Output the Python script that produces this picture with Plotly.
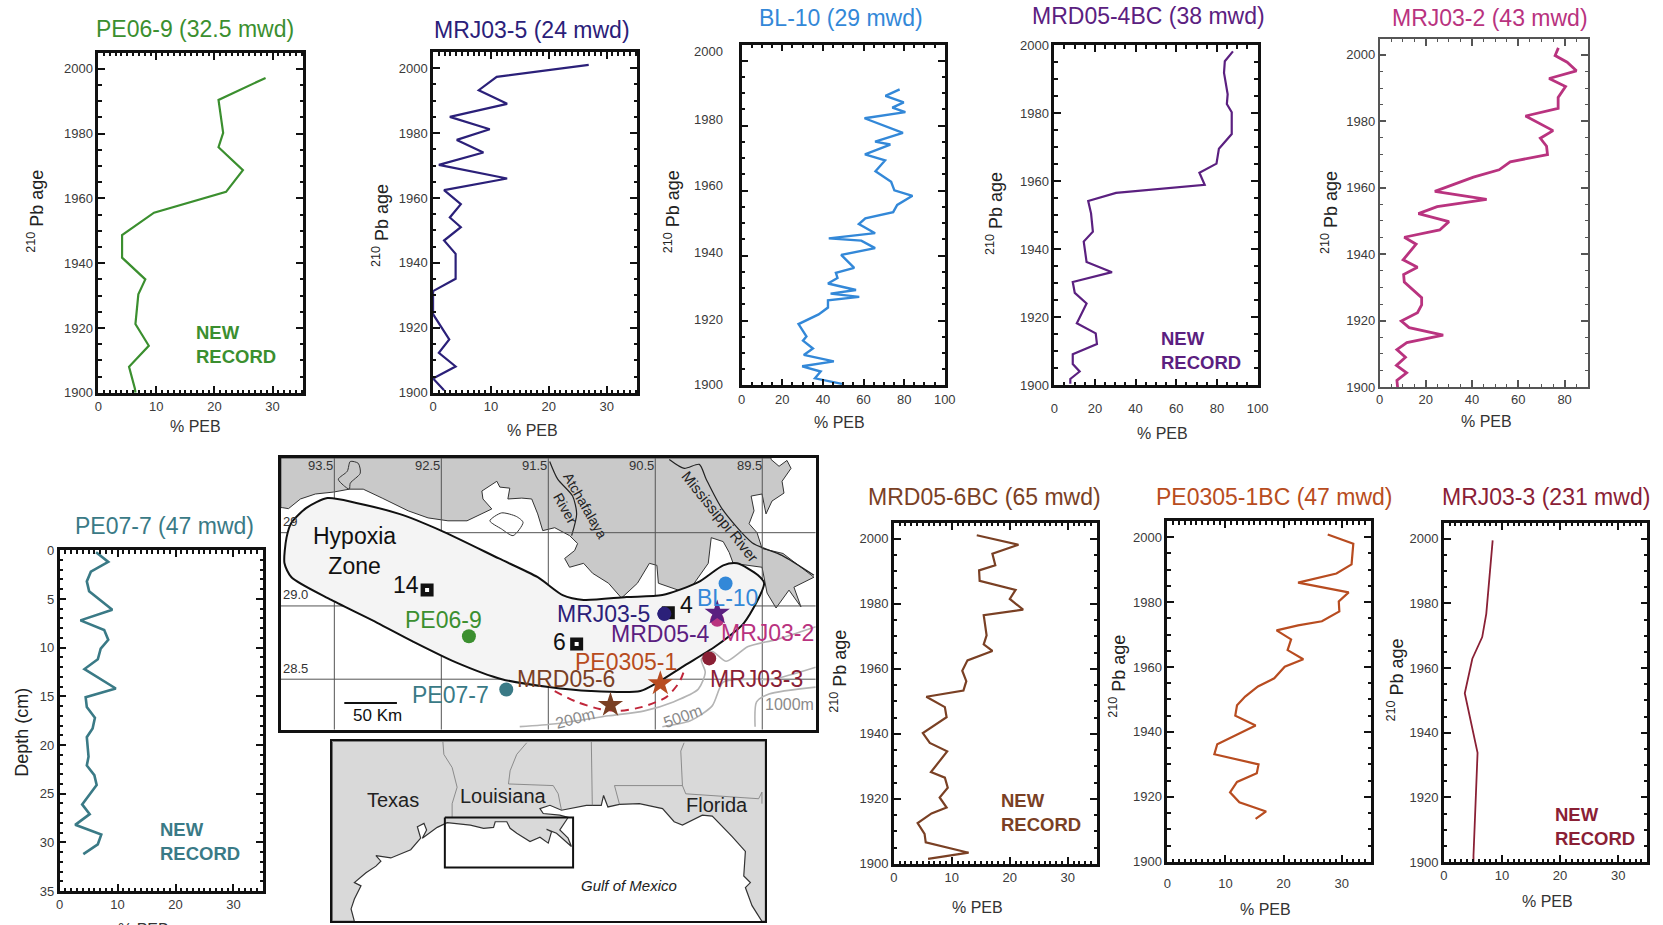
import plotly.graph_objects as go

W, H = 1663, 925
FONT = "Liberation Sans"

# ---------- sediment core records (% PEB, 210Pb age) ----------
pe069_peb = [28.8,20.7,21.5,20.7,24.9,22.0,9.6,4.1,4.1,8.1,6.9,6.4,8.7,5.3,6.3,6.4]
pe069_age = [1997.2,1990.4,1980.2,1975.8,1968.7,1962,1955.6,1948.7,1941.7,1935,1930.4,1921.2,1914.5,1908,1901.3,1900]

mrj035_peb = [26.9,11,7.9,12.8,2.9,9.8,4.1,8.7,1,12.8,1.9,4.8,2.9,4.8,1.9,3.9,3.9,0,0,2.8,1,3.9,0,1.9]
mrj035_age = [2001,1997.3,1993.2,1989,1985,1981.2,1977.9,1974,1970.2,1966,1962.4,1958.1,1954,1951,1946.9,1942.8,1935.1,1931.3,1924.2,1916.4,1912.3,1908.1,1904.4,1900.8]

bl10_peb = [77.8,70.8,79.8,74.2,80.6,60.5,79.4,65.7,73.2,60.7,70.6,65.9,73.6,75.2,84.1,76.6,74.6,60.9,57.7,65.7,42.9,58.9,65.7,49,55.4,46.4,47.2,42.5,56.3,43.8,57.9,42.5,42.5,37.9,28,31.9,30.2,35.1,30.6,45.4,29.8,38.9,36.1,49.4]
bl10_age = [1991.2,1989.2,1987.2,1985.6,1984.2,1982.3,1977.8,1975.1,1974.2,1971.2,1969.3,1966,1962.7,1960.1,1958.4,1955.6,1953.4,1951.5,1949.7,1946.9,1945.3,1944.6,1942.3,1940.2,1936.2,1934.7,1933.1,1931.4,1929.4,1928.3,1927.3,1926.2,1924,1921.9,1918.9,1915.1,1913.8,1911.4,1909.4,1907.4,1905.9,1904.3,1902.2,1900.5]

mrd054_peb = [87.9,83.9,83.5,85.3,84.9,87.3,87.3,81,79.8,71.4,74,30.4,16.7,18.1,19,14.5,15.9,28.4,9.1,10.1,15.9,11.1,20.4,21,9.1,9.1,12.5,7.9,7.9]
mrd054_age = [1998.2,1995.3,1991.9,1985.6,1982.7,1980.3,1973.9,1969.6,1965.2,1962.5,1959,1956.6,1954.2,1950.6,1945.2,1942.3,1936.3,1933.3,1930.4,1927.2,1924.1,1918.3,1915.3,1912.2,1909.2,1906.3,1904.1,1901.9,1900.5]

mrj032_peb = [77.3,75.9,81.1,85.1,73.3,80.4,77.2,77.2,63.1,75,69.5,72.2,72.6,56.5,51.7,40.6,23.9,46.3,24.9,16.8,30,26,10.7,15.8,10.2,16.4,10.4,10.7,18.2,18.2,16.4,9.4,12.8,27.5,11.8,7.5,11.2,7.3,11.7,7.5,7.8]
mrj032_age = [2002.1,1999.8,1997.8,1995.2,1992.9,1990.5,1987.2,1983.9,1981.6,1977.2,1974.9,1972.5,1970,1967.8,1965.4,1963.2,1958.9,1956.5,1954.3,1952.2,1949.8,1947.3,1945.1,1943,1938.3,1936.1,1933.9,1931.6,1926.9,1924.7,1922.4,1919.9,1917.9,1915.6,1913.4,1911.3,1909,1906.5,1904.3,1902,1900]

pe077_peb = [6.3,8.4,5.4,4.7,5.1,9.1,3.6,7.7,8.4,7.1,6.6,4.3,9.7,4.5,4.7,6.1,5.7,4.7,5,4.7,6,6.4,3.9,5.2,2.7,7.2,6.6,4.1]
pe077_depth = [0.2,1.2,2.2,3.2,4.2,6.1,7.2,8.2,9.2,10.1,11.2,12.2,14.2,15.1,16.1,17.2,18.3,19.2,21.2,22.1,23.1,24.1,26.1,27.1,28.2,29.2,30.2,31.2]

mrd056_peb = [14.3,21.5,17,17.5,14.7,14.8,21,20,22.3,15.5,16,15.5,17,12.7,11.8,12.5,12,5.6,8.8,9.1,5,6.2,9.2,6.4,8.8,9.3,7.9,9.1,6.5,4.1,5.3,5.5,12.9,5.9]
mrd056_age = [2001.1,1998.2,1995.4,1991.9,1990.3,1987.1,1984.3,1981.5,1978.2,1976.5,1970.3,1967.5,1965.5,1962.6,1959.4,1956.2,1953.3,1951.4,1948.2,1945.1,1940.2,1937.2,1934.6,1928.2,1926.5,1923.4,1920.4,1917.3,1915.5,1912.5,1909.2,1906.6,1903.4,1901.5]

pe0305_peb = [27.6,32,31.7,29.1,22.5,31.2,29.5,29.6,26.6,22.5,18.8,21.3,20.7,23.4,20.2,18.4,15.6,13.4,12,11.7,15.2,11.5,8.6,8.1,15.7,15.4,12,10.8,12.4,17,15.2]
pe0305_age = [2000.8,1998,1991.6,1988.8,1986,1983,1980.2,1977.1,1974.1,1972.8,1971.3,1968.5,1965.2,1962.4,1960.1,1956.5,1954,1950.9,1948.2,1945,1942,1938.7,1936.2,1933.1,1930,1927.3,1924.6,1921.4,1918.3,1915.5,1913.2]

mrj033_peb = [8.4,7.3,6.6,4.9,3.6,5.8,5.1,5.1]
mrj033_age = [1999.5,1976.8,1969.6,1962.9,1952.2,1933.8,1902,1900]

# ---------- study-area map (longitude W, latitude N) ----------
land_lon = [94.0,93.987,93.929,93.817,93.677,93.509,93.360,93.230,93.053,92.810,92.624,92.438,92.260,92.111,92.028,92.111,92.121,91.981,91.953,91.860,91.878,91.748,91.655,91.599,91.552,91.440,91.301,91.226,91.254,91.347,91.301,91.170,91.086,90.937,90.816,90.667,90.555,90.485,90.471,90.285,90.182,90.005,89.977,89.865,89.809,89.772,89.502,89.455,89.371,89.250,89.138,89.204,89.017,89.138,89.306,89.502,89.549,89.623,89.577,89.604,89.502,89.465,89.409,89.297,89.315,89.231,89.269,89.343,89.418,89.418,94.0,94.0]
land_lat = [29.671,29.671,29.664,29.730,29.764,29.777,29.797,29.797,29.736,29.649,29.601,29.581,29.581,29.635,29.662,29.730,29.784,29.851,29.811,29.804,29.730,29.736,29.730,29.628,29.514,29.534,29.480,29.426,29.378,29.324,29.264,29.291,29.223,29.155,29.054,29.155,29.291,29.277,29.155,29.108,29.108,29.291,29.466,29.439,29.365,29.291,29.264,29.088,28.986,29.108,28.993,29.128,29.196,29.264,29.358,29.392,29.500,29.561,29.649,29.750,29.764,29.628,29.716,29.770,29.851,29.939,29.993,29.953,30.0,30.01,30.01,29.671]

bay_island_lon = [92.046,91.937,91.797,91.736,91.829,91.937,92.046]
bay_island_lat = [29.581,29.635,29.610,29.570,29.480,29.525,29.581]
lake_lon = [93.463,93.379,93.351,93.276,93.258,93.351,93.360,93.416,93.463]
lake_lat = [29.865,29.919,29.986,29.973,29.905,29.838,29.797,29.824,29.865]
atchafalaya_lon = [91.487,91.412,91.273,91.235,91.282]
atchafalaya_lat = [29.986,29.865,29.750,29.628,29.480]
mississippi_lon = [90.369,90.229,90.089,90.024,89.875,89.595,89.316,89.017]
mississippi_lat = [30.0,29.939,29.966,29.865,29.662,29.432,29.345,29.209]

zone_lon = [93.565,93.761,93.901,93.947,93.966,93.901,93.528,93.099,92.764,92.363,91.934,91.496,91.105,90.639,90.471,90.238,89.940,89.670,89.483,89.539,89.735,89.865,90.098,90.434,90.769,91.170,91.366,91.599,91.962,92.503,92.894,93.295,93.565]
zone_lat = [29.736,29.669,29.568,29.466,29.291,29.196,29.041,28.885,28.757,28.615,28.500,28.446,28.419,28.419,28.480,28.588,28.723,28.885,29.155,29.209,29.291,29.277,29.162,29.074,29.061,29.041,29.074,29.196,29.324,29.514,29.628,29.703,29.736]

arc_lon = [91.440,91.235,91.021,90.835,90.620,90.397,90.275,90.220]
arc_lat = [28.419,28.345,28.297,28.284,28.311,28.378,28.480,28.581]

depth200_lon = [91.767,91.431,90.937,90.602,90.331,90.098,90.033,90.070,89.968,89.837,89.632,89.371,89.0]
depth200_lat = [28.176,28.196,28.250,28.284,28.345,28.432,28.547,28.635,28.689,28.622,28.723,28.770,28.858]
depth500_lon = [90.434,90.173,89.968,89.865,89.632,89.403,89.0]
depth500_lat = [28.176,28.216,28.318,28.480,28.5,28.5,28.581]
depth1000_lon = [89.567,89.553,89.437,89.0]
depth1000_lat = [28.176,28.345,28.399,28.446]

grid_lons = [93.5,92.5,91.5,90.5,89.5]
grid_lats = [29.5,29.0,28.5]
scale_lon = [93.407,92.915]
scale_lat = [28.338,28.338]

site_names = ["BL-10","MRJ03-2","MRJ03-5","PE06-9","MRJ03-3","PE07-7","MRD05-4","PE0305-1","MRD05-6"]
site_lon = [89.843,89.921,90.415,92.242,89.996,91.893,89.921,90.453,90.919]
site_lat = [29.153,28.905,28.946,28.793,28.642,28.430,28.953,28.471,28.324]
site_is_star = [False,False,False,False,False,False,True,True,True]

station_lon = [92.633,90.378,91.235]
station_lat = [29.108,28.953,28.741]

# ---------- Gulf of Mexico locator ----------
gulf_lon = [97.527,97.656,97.527,97.269,97.527,97.075,96.687,96.494,96.687,96.106,95.331,94.943,95.072,94.814,94.711,94.879,94.297,93.910,93.005,92.488,92.101,92.036,91.584,91.455,91.196,90.680,90.292,89.969,89.840,90.034,89.646,89.065,89.194,89.517,89.194,89.517,90.163,90.292,89.904,89.452,88.483,87.902,87.811,87.643,87.191,86.416,85.512,85.059,84.736,83.961,83.574,82.798,82.282,82.346,82.088,82.282,82.023,81.636,81.5,81.5,98.39,98.39,97.527]
gulf_lat = [26.152,26.616,26.982,27.470,27.592,27.959,28.203,28.386,28.594,28.508,28.813,29.241,29.668,29.790,29.546,29.241,29.644,29.815,29.729,29.607,29.644,29.851,29.851,29.607,29.424,29.119,29.277,29.058,29.485,29.570,29.424,28.935,29.241,29.546,30.01,30.095,30.157,30.340,30.462,30.279,30.462,30.462,30.828,30.401,30.498,30.523,30.340,29.851,29.729,30.095,30.059,29.302,28.752,27.837,27.592,27.409,26.738,26.152,26.15,32.84,32.84,26.15,26.152]
border_lons = [
    [94.078,94.039,93.716,93.522,93.716,93.716],
    [90.809,91.196,91.455,91.519,89.775,89.581,89.452],
    [88.289,88.251],
    [87.191,87.385,84.736],
    [84.672,84.801,84.736,84.607,81.765,81.636,81.636],
]
border_lats = [
    [32.84,32.354,31.866,31.133,30.523,30.01],
    [32.782,32.354,31.744,31.255,31.194,30.889,30.279],
    [32.84,30.462],
    [30.498,31.194,31.194],
    [32.782,32.476,31.194,30.889,30.706,30.950,30.523],
]
box_lon = [94,89,89,94,94]
box_lat = [30.01,30.01,28.155,28.155,30.01]

# ---------- text ----------
GREEN, NAVY, BLUE, PURPLE, PINK, TEAL, BROWN, ORANGE, DARKRED = (
    "#3b8f2f", "#2b2079", "#3388d8", "#5b2080", "#b9337f",
    "#3a7a86", "#7a4024", "#b84c20", "#8a2035")
SITE_COLORS = [BLUE, PINK, NAVY, GREEN, DARKRED, TEAL, PURPLE, ORANGE, BROWN]

panels = [
 dict(name="PE06-9 (32.5 mwd)", x=pe069_peb, y=pe069_age, c=GREEN, box=(97,304,51.7,394), xr=[0,35.2], yr=[1900,2004.9], xd=10, xm=1, tpos=(194.7,29), xt=(195.7,427), yt=(36,211.7), nr=(194.4,344), lw=2.2),
 dict(name="MRJ03-5 (24 mwd)", x=mrj035_peb, y=mrj035_age, c=NAVY, box=(431.8,638,51,394), xr=[0,35.2], yr=[1900,2004.9], xd=10, xm=1, tpos=(532.4,30), xt=(532.8,430.7), yt=(381,226), lw=2.2),
 dict(name="BL-10 (29 mwd)", x=bl10_peb, y=bl10_age, c=BLUE, box=(740.4,946,43.3,386.7), xr=[0,100], yr=[1900,2005], xd=20, xm=5, tpos=(841.4,18), xt=(839,422), yt=(672.6,211.7), lw=2.4, own_labels=True),
 dict(name="MRD05-4BC (38 mwd)", x=mrd054_peb, y=mrd054_age, c=PURPLE, box=(1053,1258.8,44,386.7), xr=[0,100], yr=[1900,2000], xd=20, xm=5, tpos=(1148.8,16), xt=(1162.9,433), yt=(995,213), nr=(1159,350), lw=2.2, so=9),
 dict(name="MRJ03-2 (43 mwd)", x=mrj032_peb, y=mrj032_age, c=PINK, box=(1378.3,1589,37.7,388.3), xr=[0,90], yr=[1900,2004.8], xd=20, xm=5, tpos=(1489.7,18), xt=(1486,421.7), yt=(1330,213), lw=2.8, thin=True),
 dict(name="PE07-7 (47 mwd)", x=pe077_peb, y=pe077_depth, c=TEAL, box=(58.3,264.3,549,892.3), xr=[0,35.1], yr=[35,0], xd=10, xm=1, yd=5, ym=1, tpos=(164.7,525.7), xt=(143,929), yt=(21.7,732), ylab="Depth (cm)", nr=(158.3,841), lw=2.6),
 dict(name="MRD05-6BC (65 mwd)", x=mrd056_peb, y=mrd056_age, c=BROWN, box=(892.6,1098,521.7,865), xr=[0,35], yr=[1900,2004.9], xd=10, xm=1, tpos=(984,497.3), xt=(977,907), yt=(839,671.7), nr=(998.5,812), lw=2.2),
 dict(name="PE0305-1BC (47 mwd)", x=pe0305_peb, y=pe0305_age, c=ORANGE, box=(1166,1372,520,863), xr=[0,35], yr=[1900,2004.9], xd=10, xm=1, tpos=(1274.8,497), xt=(1265,909), yt=(1118,676.7), lw=2.2, so=8),
 dict(name="MRJ03-3 (231 mwd)", x=mrj033_peb, y=mrj033_age, c=DARKRED, box=(1442.6,1648.5,521.7,863.3), xr=[0,35], yr=[1900,2004.9], xd=10, xm=1, tpos=(1546.3,497), xt=(1547,901.7), yt=(1396,680.5), nr=(1552.8,826), lw=1.8),
]

PAD = 1.25  # axis lines sit just outside the domain
def dx(a, b): return [(a + PAD) / W, (b - PAD) / W]
def dy(top, bot): return [1 - (bot - PAD) / H, 1 - (top + PAD) / H]

annotations = []
def ann(px, py, text, size, color="#222222", **kw):
    annotations.append(dict(xref="paper", yref="paper", x=px / W, y=1 - py / H, text=text,
                            showarrow=False, xanchor=kw.pop("xanchor", "center"), yanchor="middle",
                            font=dict(family=kw.pop("family", FONT), size=size, color=color), **kw))

fig = go.Figure()
layout = {}

for i, p in enumerate(panels, start=1):
    s = "" if i == 1 else str(i)
    thin = p.get("thin", False)
    lc = "#555555" if thin else "#111111"
    lw = 1.5 if thin else 2.5
    fig.add_trace(go.Scatter(x=p["x"], y=p["y"], mode="lines", xaxis="x" + s, yaxis="y" + s,
                             line=dict(color=p["c"], width=p["lw"]), hoverinfo="skip", showlegend=False))
    base = dict(automargin=False, showline=True, linecolor=lc, linewidth=lw, mirror="allticks", ticks="inside",
                ticklen=7, tickwidth=2.2 if not thin else 1.5, tickcolor=lc, showgrid=False, zeroline=False,
                tickfont=dict(family=FONT, size=13, color="#3a3a3a"))
    x0, x1, y0, y1 = p["box"]
    layout["xaxis" + s] = dict(base, domain=dx(x0, x1), range=p["xr"], anchor="y" + s, tick0=0, dtick=p["xd"],
                               ticklabelstandoff=p.get("so", 0),
                               minor=dict(ticks="inside", dtick=p["xm"], tick0=0, ticklen=3.5, tickwidth=1.6 if not thin else 1, tickcolor=lc))
    ydt = p.get("yd", 20)
    layout["yaxis" + s] = dict(base, domain=dy(y0, y1), range=p["yr"], anchor="x" + s,
                               tick0=p["yr"][0] if ydt == 20 else 0, dtick=ydt,
                               showticklabels=not p.get("own_labels", False),
                               minor=dict(ticks="inside", dtick=p.get("ym", 5), tick0=p["yr"][0] if ydt == 20 else 0,
                                          ticklen=3.5, tickwidth=1.6 if not thin else 1, tickcolor=lc))
    ann(*p["tpos"], p["name"], 23, p["c"])
    ann(*p["xt"], "% PEB", 16, "#333333")
    ann(*p["yt"], p.get("ylab", "<sup>210</sup> Pb age"), 18, "#222222", textangle=-90)
    if "nr" in p:
        ann(*p["nr"], "<b>NEW<br>RECORD</b>", 18.5, p["c"], xanchor="left", align="left")

# BL-10's printed age labels drift slightly from its ticks in the original
for t, y in (("2000", 51.7), ("1980", 119), ("1960", 185.7), ("1940", 252.7), ("1920", 319), ("1900", 385)):
    ann(724.5, y, t, 13, "#3a3a3a", xanchor="right")

# ---------- study-area map ----------
def line(xs, ys, ax, color="#222222", width=1, smooth=False, **kw):
    ln = dict(color=color, width=width, dash=kw.pop("dash", "solid"))
    if smooth:
        ln.update(shape="spline", smoothing=0.7)
    fig.add_trace(go.Scatter(x=xs, y=ys, mode="lines", xaxis="x" + ax, yaxis="y" + ax,
                             line=ln, hoverinfo="skip", showlegend=False, **kw))

M = "10"
line(land_lon, land_lat, M, "#333333", 1, fill="toself", fillcolor="#c9c9c9")
line(bay_island_lon, bay_island_lat, M, "#333333", 1, smooth=True)
line(lake_lon, lake_lat, M, "#333333", 1, smooth=True)
line(atchafalaya_lon, atchafalaya_lat, M, "#222222", 1.2, smooth=True)
line(mississippi_lon, mississippi_lat, M, "#222222", 1.2, smooth=True)
for g in grid_lons:
    line([g, g], [28.155, 30.01], M, "#555555", 1)
for g in grid_lats:
    line([94.0, 89.0], [g, g], M, "#555555", 1)
for dl, da in ((depth200_lon, depth200_lat), (depth500_lon, depth500_lat), (depth1000_lon, depth1000_lat)):
    line(dl, da, M, "#b4b4b4", 1.6, smooth=True)
line(zone_lon, zone_lat, M, "#111111", 2, smooth=True, fill="toself", fillcolor="#f4f4f4")
line(arc_lon, arc_lat, M, "#c0263a", 2, smooth=True, dash="8px,6px")
line(scale_lon, scale_lat, M, "#111111", 2)

for n, lo, la, st, col in zip(site_names, site_lon, site_lat, site_is_star, SITE_COLORS):
    fig.add_trace(go.Scatter(x=[lo], y=[la], mode="markers", xaxis="x" + M, yaxis="y" + M,
                             marker=dict(symbol="star" if st else "circle", size=19 if st else 14, color=col),
                             name=n, hoverinfo="skip", showlegend=False))
fig.add_trace(go.Scatter(x=station_lon, y=station_lat, mode="markers", xaxis="x" + M, yaxis="y" + M,
                         marker=dict(symbol="square", size=13, color="#111111"), hoverinfo="skip", showlegend=False))
fig.add_trace(go.Scatter(x=[station_lon[0], station_lon[2]], y=[station_lat[0], station_lat[2]], mode="markers",
                         xaxis="x" + M, yaxis="y" + M, marker=dict(symbol="square", size=4, color="white"),
                         hoverinfo="skip", showlegend=False))
# the core dot sits on top of station 4 in the original
fig.add_trace(go.Scatter(x=[site_lon[2]], y=[site_lat[2]], mode="markers", xaxis="x" + M, yaxis="y" + M,
                         marker=dict(size=14, color=NAVY), hoverinfo="skip", showlegend=False))

frame = dict(automargin=False, showline=True, linecolor="#111111", linewidth=2.5, mirror=True, ticks="", showticklabels=False,
             showgrid=False, zeroline=False)
layout["xaxis10"] = dict(frame, domain=dx(279.6, 817), range=[94.0, 89.0], anchor="y10")
layout["yaxis10"] = dict(frame, domain=dy(456.7, 731), range=[28.155, 30.01], anchor="x10")

for t, (x, y) in {"93.5": (320, 466), "92.5": (427, 466), "91.5": (534, 466), "90.5": (641, 466), "89.5": (749, 466),
                  "29": (290, 521), "29.0": (295, 594), "28.5": (295, 668)}.items():
    ann(x, y, t, 13, "#333333")
ann(354, 551, "Hypoxia<br>Zone", 23, "#111111")
ann(405.7, 585, "14", 23, "#111111")
ann(559, 641.7, "6", 23, "#111111")
ann(686, 605, "4", 23, "#111111")
ann(585, 505, "Atchafalaya", 14, "#222222", textangle=60)
ann(565, 508, "River", 14, "#222222", textangle=61)
ann(720, 516.7, "Mississippi River", 15, "#222222", textangle=51)
ann(575, 718, "200m", 16, "#8a8a8a", textangle=-15)
ann(682.5, 716.7, "500m", 16, "#8a8a8a", textangle=-20)
ann(789.6, 704, "1000m", 16, "#8a8a8a")
ann(377, 715.7, "50 Km", 17, "#111111")
for t, c, x, y in (("PE06-9", GREEN, 443.2, 620), ("MRJ03-5", NAVY, 603, 614), ("BL-10", BLUE, 727, 598),
                   ("MRD05-4", PURPLE, 660, 634), ("MRJ03-2", PINK, 767, 632.7), ("PE0305-1", ORANGE, 626.4, 662.3),
                   ("MRD05-6", BROWN, 566.4, 679.3), ("MRJ03-3", DARKRED, 756.4, 679.3), ("PE07-7", TEAL, 450.4, 695)):
    ann(x, y, t, 23, c)

# ---------- locator map ----------
G = "11"
line(gulf_lon, gulf_lat, G, "#333333", 1.2, fill="toself", fillcolor="#d9d9d9")
for bl, ba in zip(border_lons, border_lats):
    line(bl, ba, G, "#777777", 0.8)
line(box_lon, box_lat, G, "#111111", 2)
layout["xaxis11"] = dict(frame, domain=dx(331, 766.7), range=[98.39, 81.5], anchor="y11", linewidth=2)
layout["yaxis11"] = dict(frame, domain=dy(740, 922.7), range=[26.15, 32.84], anchor="x11", linewidth=2)
ann(392.7, 800, "Texas", 20, "#222222")
ann(503, 795.7, "Louisiana", 20, "#222222")
ann(716.7, 805, "Florida", 20, "#222222")
ann(629, 885, "<i>Gulf of Mexico</i>", 15, "#222222")

fig.update_layout(width=W, height=H, margin=dict(l=0, r=0, t=0, b=0), paper_bgcolor="white",
                  plot_bgcolor="white", showlegend=False, annotations=annotations, **layout)
fig.write_html("out.html", config=dict(displayModeBar=False),
               post_script="document.body.style.margin='0';document.documentElement.style.overflow='hidden';")
